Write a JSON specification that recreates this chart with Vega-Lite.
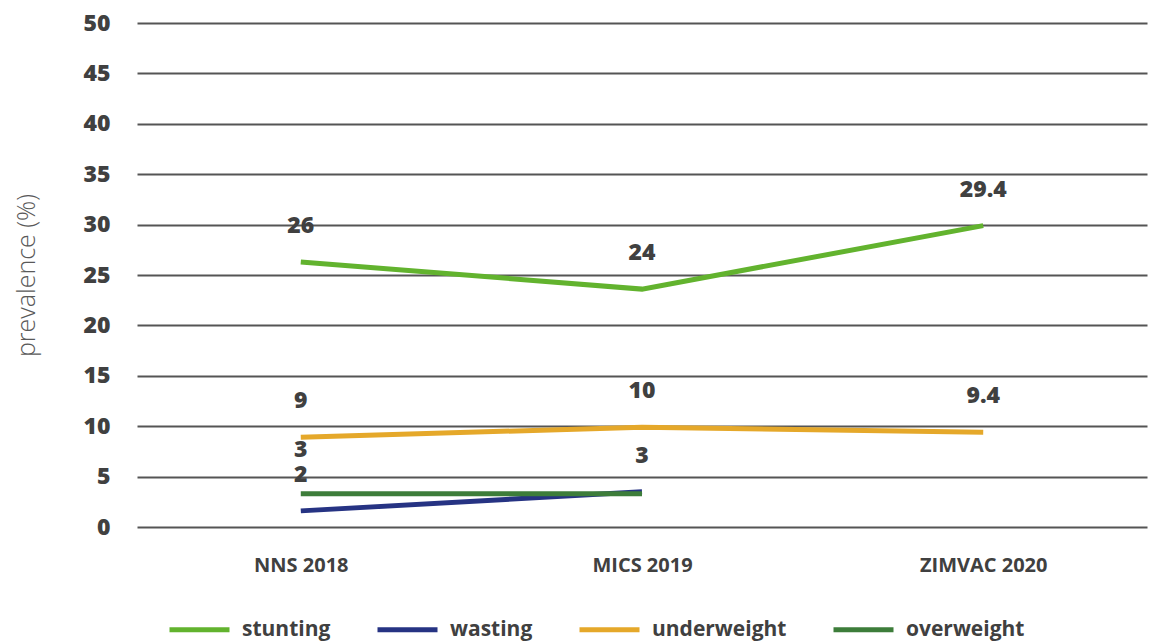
{
  "$schema": "https://vega.github.io/schema/vega-lite/v6.json",
  "width": 1010,
  "height": 504,
  "autosize": "none",
  "padding": {"left": 137, "top": 23, "right": 4, "bottom": 117},
  "background": "white",
  "config": {
    "view": {"stroke": null},
    "font": "Open Sans"
  },
  "data": {
    "values": [
      {"survey": "NNS 2018", "indicator": "stunting", "value": 26.3, "label": "26"},
      {"survey": "MICS 2019", "indicator": "stunting", "value": 23.6, "label": "24"},
      {"survey": "ZIMVAC 2020", "indicator": "stunting", "value": 29.9, "label": "29.4"},
      {"survey": "NNS 2018", "indicator": "wasting", "value": 1.6, "label": "2"},
      {"survey": "MICS 2019", "indicator": "wasting", "value": 3.5, "label": "3"},
      {"survey": "NNS 2018", "indicator": "underweight", "value": 8.9, "label": "9"},
      {"survey": "MICS 2019", "indicator": "underweight", "value": 9.9, "label": "10"},
      {"survey": "ZIMVAC 2020", "indicator": "underweight", "value": 9.4, "label": "9.4"},
      {"survey": "NNS 2018", "indicator": "overweight", "value": 3.3, "label": "3"},
      {"survey": "MICS 2019", "indicator": "overweight", "value": 3.3, "label": ""}
    ]
  },
  "encoding": {
    "x": {
      "field": "survey",
      "type": "nominal",
      "sort": ["NNS 2018", "MICS 2019", "ZIMVAC 2020"],
      "scale": {"type": "point", "padding": 0.48},
      "axis": {
        "title": null,
        "domain": false,
        "ticks": false,
        "grid": false,
        "labelAngle": 0,
        "labelFont": "Open Sans",
        "labelFontWeight": "bold",
        "labelFontSize": 20,
        "labelColor": "#404040",
        "labelPadding": 28
      }
    },
    "y": {
      "field": "value",
      "type": "quantitative",
      "scale": {"domain": [0, 50]},
      "axis": {
        "title": "prevalence (%)",
        "titleFont": "Open Sans",
        "titleFontWeight": 300,
        "titleFontSize": 25,
        "titleColor": "#595959",
        "titlePadding": 44,
        "values": [0, 5, 10, 15, 20, 25, 30, 35, 40, 45, 50],
        "domain": false,
        "ticks": false,
        "grid": true,
        "gridColor": "#555555",
        "gridWidth": 2,
        "gridOpacity": 1,
        "labelFont": "Open Sans",
        "labelFontWeight": 800,
        "labelFontSize": 23,
        "labelColor": "#404040",
        "labelPadding": 27
      }
    },
    "color": {
      "field": "indicator",
      "type": "nominal",
      "sort": ["stunting", "wasting", "underweight", "overweight"],
      "scale": {
        "domain": ["stunting", "wasting", "underweight", "overweight"],
        "range": ["#62b32e", "#263383", "#e5a82a", "#3d7d3a"]
      },
      "legend": {
        "title": null,
        "orient": "none",
        "direction": "horizontal",
        "legendX": 30,
        "legendY": 574,
        "symbolType": "stroke",
        "symbolSize": 3600,
        "symbolStrokeWidth": 5,
        "labelFont": "Open Sans",
        "labelFontWeight": "bold",
        "labelFontSize": 21,
        "labelColor": "#404040",
        "labelOffset": 10,
        "columnPadding": 36
      }
    }
  },
  "layer": [
    {
      "mark": {"type": "line", "strokeWidth": 5, "strokeCap": "butt"}
    },
    {
      "transform": [{"filter": "datum.indicator != 'overweight'"}],
      "mark": {"type": "text", "dy": -36, "baseline": "middle", "fontSize": 23, "fontWeight": 800, "font": "Open Sans", "color": "#404040"},
      "encoding": {
        "text": {"field": "label"},
        "color": {"value": "#404040"}
      }
    },
    {
      "transform": [{"filter": "datum.indicator == 'overweight'"}],
      "mark": {"type": "text", "dy": -44, "baseline": "middle", "fontSize": 23, "fontWeight": 800, "font": "Open Sans", "color": "#404040"},
      "encoding": {
        "text": {"field": "label"},
        "color": {"value": "#404040"}
      }
    }
  ]
}
